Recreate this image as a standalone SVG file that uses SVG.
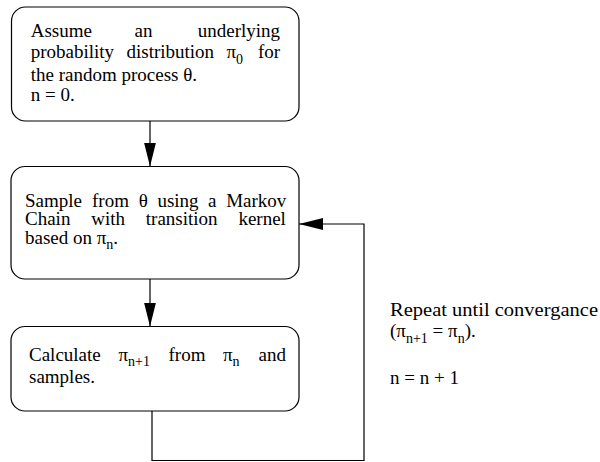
<svg xmlns="http://www.w3.org/2000/svg" width="600" height="462" viewBox="0 0 600 462">
  <style>
    .box { fill: #ffffff; stroke: #000000; stroke-width: 1.2; }
    .wire { fill: none; stroke: #000000; stroke-width: 1.2; }
    .sub { font-size: 14px; }
  </style>
  <defs>
    <marker id="arrowhead" markerUnits="userSpaceOnUse" markerWidth="24" markerHeight="12" refX="24" refY="6" orient="auto">
      <path d="M0,0 L24,6 L0,12 Z" fill="#000000"/>
    </marker>
  </defs>

  <rect width="600" height="462" fill="#ffffff"/>

  <!-- connectors -->
  <g id="connectors">
    <line class="wire" x1="150" y1="121" x2="150" y2="166.5" marker-end="url(#arrowhead)"/>
    <line class="wire" x1="150" y1="279" x2="150" y2="326.5" marker-end="url(#arrowhead)"/>
    <polyline class="wire" points="152,411 152,460.5 364,460.5 364,224 299,224" marker-end="url(#arrowhead)"/>
  </g>

  <g font-family="Liberation Serif, DejaVu Serif, serif" font-size="19" fill="#000000">
    <!-- initial assumption -->
    <g id="node-init">
      <rect class="box" x="11.5" y="7" width="287.5" height="114" rx="14" ry="14"/>
      <text y="37.3"><tspan x="30.7">Assume</tspan><tspan x="134.5">an</tspan><tspan x="197.8">underlying</tspan></text>
      <text y="58"><tspan x="30.7">probability</tspan><tspan x="126.5">distribution</tspan><tspan x="226.5">π</tspan><tspan class="sub" dy="5.5">0</tspan><tspan x="258" dy="-5.5">for</tspan></text>
      <text x="30.7" y="81">the random process θ.</text>
      <text x="30.7" y="101">n = 0.</text>
    </g>

    <!-- Markov chain sampling -->
    <g id="node-sample">
      <rect class="box" x="11" y="166.5" width="288" height="112.5" rx="14" ry="14"/>
      <text y="206.5"><tspan x="25">Sample</tspan><tspan x="92">from</tspan><tspan x="138.7">θ</tspan><tspan x="157.4">using</tspan><tspan x="208.1">a</tspan><tspan x="226.2">Markov</tspan></text>
      <text y="225"><tspan x="25">Chain</tspan><tspan x="91.2">with</tspan><tspan x="145.8">transition</tspan><tspan x="238.4">kernel</tspan></text>
      <text x="25" y="243.5">based on π<tspan class="sub" dy="5.5">n</tspan><tspan dy="-5.5">.</tspan></text>
    </g>

    <!-- distribution update -->
    <g id="node-update">
      <rect class="box" x="11" y="326.5" width="288" height="84.5" rx="14" ry="14"/>
      <text y="360.7"><tspan x="29">Calculate</tspan><tspan x="118.5">π</tspan><tspan class="sub" dy="5.5">n+1</tspan><tspan x="168.5" dy="-5.5">from</tspan><tspan x="223">π</tspan><tspan class="sub" dy="5.5">n</tspan><tspan x="258.5" dy="-5.5">and</tspan></text>
      <text x="29" y="383">samples.</text>
    </g>

    <!-- loop annotation -->
    <g id="loop-note">
      <text x="390" y="316" textLength="208" lengthAdjust="spacingAndGlyphs">Repeat until convergance</text>
      <text x="390" y="337">(π<tspan class="sub" dy="5.5">n+1</tspan><tspan dy="-5.5"> = π</tspan><tspan class="sub" dy="5.5">n</tspan><tspan dy="-5.5">).</tspan></text>
      <text x="390" y="384">n = n + 1</text>
    </g>
  </g>
</svg>
